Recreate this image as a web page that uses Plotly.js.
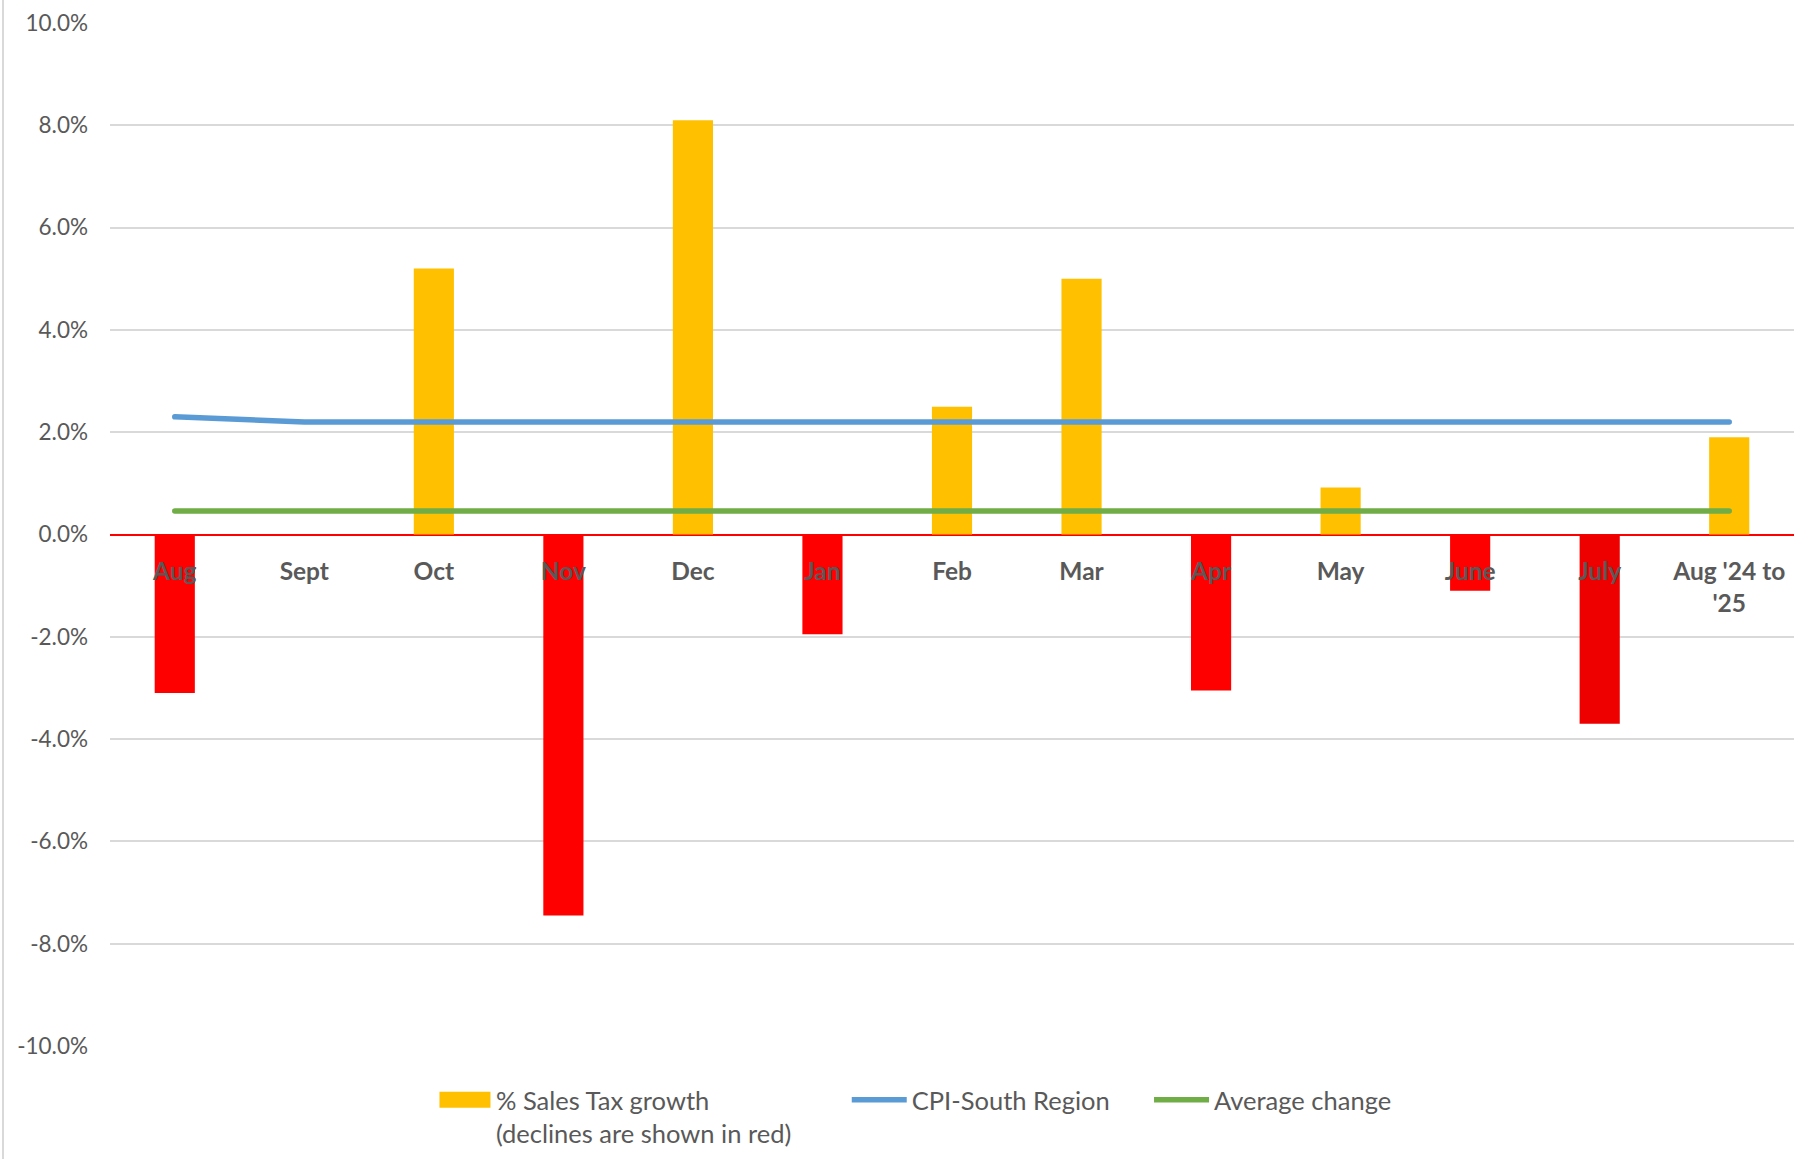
<!DOCTYPE html>
<html>
<head>
<meta charset="utf-8">
<script src="https://cdn.plot.ly/plotly-3.0.1.min.js"></script>
<style>
  html, body { margin: 0; padding: 0; background: #ffffff; }
  #wrap { position: relative; width: 1796px; height: 1159px; }
  #chart { width: 1796px; height: 1159px; }
  #edge { position: absolute; left: 2px; top: 0; width: 2px; height: 1159px; background: #d9d9d9; }
  #chart .scatterlayer .js-line { stroke-linecap: round; }
  #chart .legendpoints .legendlines path { stroke-linecap: round; }
</style>
</head>
<body>
<div id="wrap">
  <div id="chart"></div>
  <div id="edge"></div>
</div>
<script>
// ---- data ----
const categories = ["Aug", "Sept", "Oct", "Nov", "Dec", "Jan", "Feb", "Mar", "Apr", "May", "June", "July", "Aug '24 to<br>'25"];
const salesTaxGrowth = [-3.1, 0, 5.2, -7.45, 8.1, -1.95, 2.5, 5.0, -3.05, 0.92, -1.1, -3.7, 1.9];
const cpiSouth = [2.3, 2.2, 2.2, 2.2, 2.2, 2.2, 2.2, 2.2, 2.2, 2.2, 2.2, 2.2, 2.2];
const averageChange = [0.46, 0.46, 0.46, 0.46, 0.46, 0.46, 0.46, 0.46, 0.46, 0.46, 0.46, 0.46, 0.46];
const yTickVals = [-10, -8, -6, -4, -2, 0, 2, 4, 6, 8, 10];
const yTickText = ["-10.0%", "-8.0%", "-6.0%", "-4.0%", "-2.0%", "0.0%", "2.0%", "4.0%", "6.0%", "8.0%", "10.0%"];
const seriesNames = ["% Sales Tax growth<br>(declines are shown in red)", "CPI-South Region", "Average change"];

// ---- styles ----
const YELLOW = "#FFC000", RED = "#FF0000", RED_DARK = "#EE0000";
const BLUE = "#5B9BD5", GREEN = "#70AD47", TEXT = "#595959";
const FONT = "Lato, 'Open Sans', sans-serif";

const posVals = salesTaxGrowth.map(v => v >= 0 ? v : null);
const negVals = salesTaxGrowth.map(v => v < 0 ? v : null);
const negColors = categories.map(c => c === "July" ? RED_DARK : RED);

const traces = [
  { type: "bar", x: categories, y: posVals, name: seriesNames[0], width: 0.31,
    marker: { color: YELLOW }, hoverinfo: "skip", showlegend: true, legend: "legend" },
  { type: "bar", x: categories, y: negVals, name: "declines", width: 0.31,
    marker: { color: negColors }, hoverinfo: "skip", showlegend: false },
  { type: "scatter", mode: "lines", x: categories, y: cpiSouth, name: seriesNames[1],
    line: { color: BLUE, width: 5.5 }, hoverinfo: "skip", legend: "legend2" },
  { type: "scatter", mode: "lines", x: categories, y: averageChange, name: seriesNames[2],
    line: { color: GREEN, width: 5.5 }, hoverinfo: "skip", legend: "legend3" }
];

function legendAt(x) {
  return {
    orientation: "h", x: x, xanchor: "left", y: -0.03, yanchor: "top",
    valign: "top", itemwidth: 55,
    font: { family: FONT, size: 25.5, color: TEXT }, bgcolor: "rgba(0,0,0,0)"
  };
}

const layout = {
  width: 1796, height: 1159,
  margin: { l: 110, r: 2, t: 23, b: 113 },
  paper_bgcolor: "#ffffff", plot_bgcolor: "#ffffff",
  barmode: "overlay",
  font: { family: FONT, color: TEXT, size: 20 },
  xaxis: {
    type: "category", range: [-0.5, 12.5],
    anchor: "free", position: 0.5,
    showgrid: false, showline: false, zeroline: false, ticks: "",
    tickfont: { family: FONT, size: 24.5, color: TEXT, weight: "bold" },
    ticklabelstandoff: 20, fixedrange: true
  },
  yaxis: {
    range: [-10, 10], tickvals: yTickVals, ticktext: yTickText,
    showgrid: true, gridcolor: "#d9d9d9", gridwidth: 2,
    zeroline: true, zerolinecolor: RED, zerolinewidth: 2,
    showline: false, ticks: "", ticklabelstandoff: 21,
    tickfont: { family: FONT, size: 22.5, color: TEXT }, fixedrange: true
  },
  showlegend: true,
  legend: legendAt(0.1906),
  legend2: legendAt(0.4375),
  legend3: legendAt(0.617)
};

Plotly.newPlot("chart", traces, layout, { displayModeBar: false, staticPlot: true }).then(function (gd) {
  // widen the bar legend swatch to the wide, flat rectangle of the original
  gd.querySelectorAll(".infolayer g.legend .legendpoints path").forEach(function (p) {
    p.setAttribute("d", "M-24,-8H27V8H-24Z");
  });
});
</script>
</body>
</html>
